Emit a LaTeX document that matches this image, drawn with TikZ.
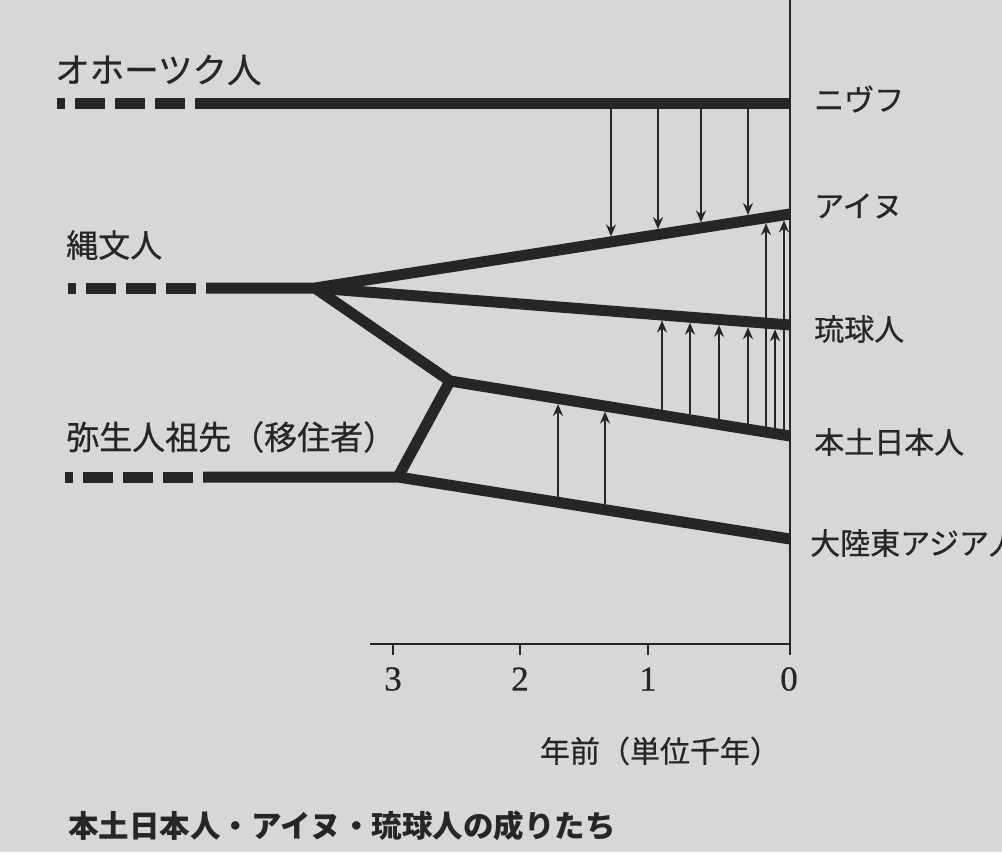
\documentclass[tikz,border=0pt]{standalone}
\usepackage{fontspec}
\newfontfamily\jp{Noto Sans CJK JP}[FakeBold=0.6]
\newfontfamily\jpb{Noto Sans CJK JP}
\newfontfamily\numfont{Liberation Serif}[FakeBold=0.5]
\usetikzlibrary{arrows.meta}
\definecolor{paper}{RGB}{214,216,213}
\definecolor{ink}{RGB}{38,38,38}
\tikzset{
  lineage/.style={draw=ink, line width=11pt, line join=miter, miter limit=4},
  dashpart/.style={draw=ink, line width=11pt, dash pattern=on 8pt off 10pt on 30pt off 10pt on 30pt off 10pt on 30pt off 10pt},
  flow/.style={draw=ink, line width=2.2pt, -{Stealth[length=12pt,width=10pt,inset=4pt]}},
  axisline/.style={draw=ink, line width=2.2pt},
  lab/.style={font=\jp\fontsize{30}{32}\selectfont, text=ink, anchor=west, inner sep=0pt},
  biglab/.style={lab, font=\jp\fontsize{33}{35}\selectfont},
  ticklab/.style={font=\numfont\fontsize{35}{37}\selectfont, text=ink, inner sep=0pt}
}
\begin{document}
\begin{tikzpicture}[x=1pt,y=-1pt]
\fill[paper] (0,0) rectangle (1002,852);
\useasboundingbox (0,0) rectangle (1002,852);
% key points
\coordinate (okS) at (57,103);
\coordinate (okD) at (195,103);
\coordinate (nivE) at (790,103);
\coordinate (joS) at (68,288);
\coordinate (joD) at (206,288);
\coordinate (J) at (315,288);
\coordinate (ainuE) at (790,214);
\coordinate (ryuE) at (790,325);
\coordinate (K) at (450,381);
\coordinate (mainE) at (790,436);
\coordinate (yaS) at (65,477);
\coordinate (yaD) at (203,477);
\coordinate (Y) at (398,477);
\coordinate (contE) at (790,539);
% axis
\coordinate (axTop) at (790,0);
\coordinate (ax0) at (790,644);
\coordinate (ax0b) at (790,655);
\coordinate (axL) at (370,644);
\draw[axisline] (axTop) -- (ax0b);
\draw[axisline] (axL) -- (ax0);
\foreach \tx/\tl in {393/3,520/2,648/1} {
  \draw[axisline] (\tx,644) -- (\tx,655);
  \node[ticklab] (t\tl) at (\tx,679) {\tl};
}
\node[ticklab] (t0) at (789,679) {0};
\node[lab, anchor=center] (unit) at (660,751) {年前（単位千年）};
% lineages
\draw[dashpart] (okS) -- (okD);
\draw[lineage] (okD) -- (nivE);
\draw[dashpart] (joS) -- (joD);
\draw[lineage] (joD) -- (J) -- (ainuE);
\draw[lineage] (J) -- (ryuE);
\draw[lineage] (J) -- (K) -- (mainE);
\draw[dashpart] (yaS) -- (yaD);
\draw[lineage] (yaD) -- (Y) -- (contE);
\draw[lineage] (Y) -- (K);
% gene flow arrows: Nivkh -> Ainu
\foreach \ax/\ay in {611/236.4, 658/229.1, 701/222.4, 748/215.0}
  \draw[flow] (\ax,108.5) -- (\ax,\ay);
% mainland -> Ryukyu
\foreach \ax/\sy/\ey in {662/409.8/320.5, 690/414.3/322.7, 719/419.0/325.0, 748/423.7/327.2, 775/428.1/329.3}
  \draw[flow] (\ax,\sy) -- (\ax,\ey);
% mainland -> Ainu
\foreach \ax/\sy/\ey in {766/426.6/223.2, 784/429.5/220.4}
  \draw[flow] (\ax,\sy) -- (\ax,\ey);
% continent -> mainland
\foreach \ax/\sy/\ey in {558/496.8/404.0, 605/504.2/411.6}
  \draw[flow] (\ax,\sy) -- (\ax,\ey);
% labels
\node[biglab, font=\jp\fontsize{34.5}{36}\selectfont] (okh) at (55,70) {オホーツク人};
\node[biglab, font=\jp\fontsize{32}{34}\selectfont] (jom) at (66,245) {縄文人};
\node[biglab] (yay) at (66,437) {弥生人祖先（移住者）};
\node[lab] (niv) at (814,99) {ニヴフ};
\node[lab] (ain) at (814,206) {アイヌ};
\node[lab] (ryu) at (814,329) {琉球人};
\node[lab] (hon) at (814,442) {本土日本人};
\node[lab] (con) at (810,543) {大陸東アジア人};
\node[lab, font=\jpb\bfseries\fontsize{30.5}{32}\selectfont] (cap) at (68,826) {本土日本人・アイヌ・琉球人の成りたち};
\end{tikzpicture}
\end{document}
